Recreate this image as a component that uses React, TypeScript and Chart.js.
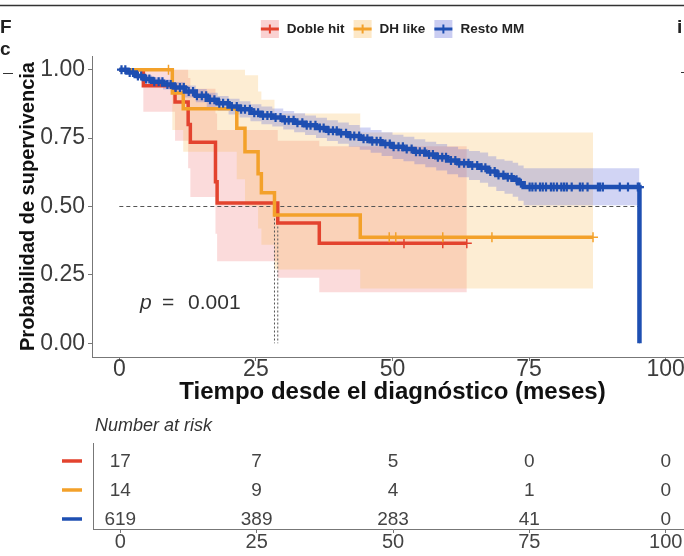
import React, { useEffect, useRef } from 'react';
import { Chart, registerables } from 'chart.js';

Chart.register(...registerables);

const FONT = "'Liberation Sans', Arial, Helvetica, sans-serif";
Chart.defaults.font.family = FONT;

const groupNames = ['Doble hit', 'DH like', 'Resto MM'];
const lineColors = ['#e3432e', '#f3a12a', '#1e4fb2'];
const bandColors = ['rgba(236,90,90,0.22)', 'rgba(247,180,70,0.24)', 'rgba(90,100,215,0.28)'];
const keyFills = ['rgba(236,90,90,0.28)', 'rgba(247,180,70,0.3)', 'rgba(90,100,215,0.32)'];

// Doble hit
const redTimes = [0, 4.4, 10.2, 12.6, 13.0, 17.6, 17.9, 29.0, 36.6, 63.6];
const redSurv = [1, 0.941, 0.882, 0.8, 0.735, 0.59, 0.513, 0.44, 0.366, 0.366];
const redLower = [1, 0.846, 0.74, 0.64, 0.535, 0.4, 0.3, 0.24, 0.187, 0.187];
const redUpper = [1, 1, 1, 0.97, 0.93, 0.84, 0.78, 0.74, 0.72, 0.72];
const redCensor = [52.1, 59.2, 63.6];

// DH like
const orangeTimes = [0, 9.7, 11.7, 21.5, 23.0, 25.4, 26.0, 28.4, 44.1, 86.7];
const orangeSurv = [1, 0.915, 0.857, 0.786, 0.7, 0.62, 0.55, 0.469, 0.388, 0.388];
const orangeLower = [1, 0.78, 0.7, 0.6, 0.5, 0.42, 0.36, 0.27, 0.2, 0.2];
const orangeUpper = [1, 1, 1, 1, 0.98, 0.92, 0.89, 0.84, 0.77, 0.77];
const orangeCensor = [9.0, 49.4, 50.6, 59.2, 68.2, 86.7];

// Resto MM
const blueTimes = [0, 1.5, 3, 4.5, 6, 8, 10, 12, 14, 16, 18, 20, 22, 24, 26, 28, 30, 32, 34, 36, 38, 40, 42, 44, 46, 48, 50, 52, 54, 56, 58, 60, 62, 64, 66, 67.5, 69, 70.5, 72, 73, 74, 95.2];
const blueSurv = [1, 0.99, 0.977, 0.966, 0.956, 0.946, 0.935, 0.92, 0.905, 0.89, 0.877, 0.865, 0.855, 0.843, 0.833, 0.825, 0.815, 0.806, 0.797, 0.787, 0.777, 0.768, 0.758, 0.748, 0.738, 0.728, 0.718, 0.71, 0.7, 0.69, 0.68, 0.668, 0.658, 0.65, 0.642, 0.628, 0.615, 0.607, 0.598, 0.585, 0.571, 0];
const blueLower = [1, 0.982, 0.966, 0.952, 0.94, 0.928, 0.915, 0.898, 0.881, 0.864, 0.85, 0.836, 0.825, 0.812, 0.801, 0.792, 0.781, 0.771, 0.761, 0.75, 0.739, 0.729, 0.718, 0.707, 0.696, 0.685, 0.674, 0.665, 0.654, 0.643, 0.632, 0.618, 0.607, 0.597, 0.587, 0.572, 0.557, 0.547, 0.536, 0.521, 0.505, 0.505];
const blueUpper = [1, 0.998, 0.988, 0.98, 0.972, 0.964, 0.955, 0.942, 0.929, 0.916, 0.904, 0.894, 0.885, 0.874, 0.865, 0.858, 0.849, 0.841, 0.833, 0.824, 0.815, 0.807, 0.798, 0.789, 0.78, 0.771, 0.762, 0.755, 0.746, 0.737, 0.728, 0.718, 0.709, 0.703, 0.697, 0.684, 0.673, 0.667, 0.66, 0.65, 0.64, 0.64];
const blueCensor = [0.4, 1.1, 1.9, 2.5, 3.4, 4.0, 4.9, 5.5, 6.4, 7.2, 7.9, 8.8, 9.4, 10.3, 11.1, 11.8, 12.7, 13.5, 14.2, 15.1, 15.9, 16.6, 17.4, 18.3, 19.0, 19.9, 20.6, 21.5, 22.3, 23.0, 23.9, 24.7, 25.4, 26.3, 27.1, 27.8, 28.6, 29.5, 30.3, 31.0, 31.9, 32.6, 33.5, 34.3, 35.0, 35.9, 36.7, 37.4, 38.3, 39.1, 39.8, 40.6, 41.5, 42.3, 43.0, 43.9, 44.7, 45.4, 46.3, 47.1, 47.8, 48.7, 49.5, 50.2, 51.1, 51.9, 52.6, 53.5, 54.3, 55.0, 55.9, 56.7, 57.4, 58.3, 59.1, 59.8, 60.7, 61.5, 62.2, 63.1, 63.9, 64.6, 65.5, 66.3, 67.0, 67.9, 68.7, 69.4, 70.3, 71.1, 71.8, 72.7, 73.5, 75.1, 75.6, 76.2, 77.0, 77.5, 78.1, 79.0, 79.5, 80.1, 80.9, 81.4, 81.9, 82.8, 84.3, 84.8, 85.7, 87.6, 88.0, 88.5, 91.6, 93.1, 94.9, 95.2];

const xTicks = [0, 25, 50, 75, 100];
const yTicks = [0, 0.25, 0.5, 0.75, 1];
const pValueLabel = '0.001';
const pValueAt = [3.8, 0.147];

const riskTimes = [0, 25, 50, 75, 100];
const riskRed = [17, 7, 5, 0, 0];
const riskOrange = [14, 9, 4, 1, 0];
const riskBlue = [619, 389, 283, 41, 0];

const groups = [
  { times: redTimes, surv: redSurv, lo: redLower, hi: redUpper, cens: redCensor },
  { times: orangeTimes, surv: orangeSurv, lo: orangeLower, hi: orangeUpper, cens: orangeCensor },
  { times: blueTimes, surv: blueSurv, lo: blueLower, hi: blueUpper, cens: blueCensor },
];

const toPts = (xs: number[], ys: number[]) => xs.map((x, i) => ({ x, y: ys[i] }));
const survAt = (times: number[], surv: number[], t: number) => {
  let v = surv[0];
  for (let i = 1; i < times.length; i++) if (times[i] < t) v = surv[i];
  return v;
};
const medianOf = (times: number[], surv: number[]) => {
  for (let i = 0; i < surv.length; i++) if (surv[i] <= 0.5) return times[i];
  return null;
};

function buildMainDatasets() {
  const ds: any[] = [];
  groups.forEach((g, i) => {
    ds.push({ data: toPts(g.times, g.hi), stepped: true, borderWidth: 0, borderColor: 'transparent', pointRadius: 0, fill: '+1', backgroundColor: bandColors[i], order: 30 - i });
    ds.push({ data: toPts(g.times, g.lo), stepped: true, borderWidth: 0, borderColor: 'transparent', pointRadius: 0, fill: false, order: 30 - i });
  });
  const medians = groups.map(g => medianOf(g.times, g.surv)).filter(m => m !== null) as number[];
  const maxMed = Math.max(...medians);
  ds.push({ data: [{ x: 0, y: 0.5 }, { x: maxMed, y: 0.5 }], borderColor: '#555', borderWidth: 1, borderDash: [4, 3], pointRadius: 0, fill: false, order: 20 });
  medians.forEach(m => {
    ds.push({ data: [{ x: m, y: 0.5 }, { x: m, y: 0 }], borderColor: '#555', borderWidth: 1, borderDash: [2, 2], pointRadius: 0, fill: false, order: 20 });
  });
  groups.forEach((g, i) => {
    ds.push({ data: toPts(g.times, g.surv), stepped: true, borderColor: lineColors[i], borderWidth: i === 2 ? 4.5 : 3.5, pointRadius: 0, fill: false, order: 12 - i * 2 });
    ds.push({
      data: g.cens.map(t => ({ x: t, y: survAt(g.times, g.surv, t) })), showLine: false, pointStyle: 'cross',
      pointRadius: i === 2 ? 4.5 : 5, borderWidth: i === 2 ? 2.2 : 1.5, borderColor: lineColors[i], backgroundColor: lineColors[i], order: 11 - i * 2,
    });
  });
  return ds;
}

const mainDecor = {
  id: 'mainDecor',
  afterDraw(chart: any) {
    const { ctx, chartArea, scales } = chart;
    ctx.save();
    ctx.strokeStyle = '#333';
    ctx.lineWidth = 1.5;
    ctx.beginPath();
    ctx.moveTo(0, 5.5); ctx.lineTo(chart.width, 5.5);
    ctx.stroke();
    ctx.fillStyle = '#222';
    ctx.textBaseline = 'middle';
    ctx.textAlign = 'left';
    ctx.font = `bold 19px ${FONT}`;
    ctx.fillText('F', 0, 28);
    ctx.fillText('c', 0, 50);
    ctx.fillText('i', 677, 28);
    ctx.lineWidth = 1.2;
    ctx.beginPath();
    ctx.moveTo(3, 73.5); ctx.lineTo(13, 73.5);
    ctx.moveTo(681, 72.5); ctx.lineTo(690, 72.5);
    ctx.stroke();

    // legend
    ctx.font = `bold 13.5px ${FONT}`;
    const keyW = 18, gapKT = 8, gapItems = 9;
    const widths = groupNames.map(n => ctx.measureText(n).width);
    const total = widths.reduce((a, w) => a + keyW + gapKT + w, 0) + gapItems * (groupNames.length - 1);
    let x = (chartArea.left + chartArea.right) / 2 - total / 2;
    const y = 29;
    groupNames.forEach((n, i) => {
      ctx.fillStyle = keyFills[i];
      ctx.fillRect(x, y - 9, keyW, 18);
      ctx.strokeStyle = lineColors[i];
      ctx.lineWidth = 3;
      ctx.beginPath(); ctx.moveTo(x, y); ctx.lineTo(x + keyW, y); ctx.stroke();
      ctx.lineWidth = 2;
      ctx.beginPath(); ctx.moveTo(x + keyW / 2, y - 4.5); ctx.lineTo(x + keyW / 2, y + 4.5); ctx.stroke();
      ctx.fillStyle = '#222';
      ctx.fillText(n, x + keyW + gapKT, y + 0.5);
      x += keyW + gapKT + widths[i] + gapItems;
    });

    // p-value
    const px = scales.x.getPixelForValue(pValueAt[0]);
    const py = scales.y.getPixelForValue(pValueAt[1]);
    ctx.fillStyle = '#333';
    ctx.font = `italic 21px ${FONT}`;
    ctx.fillText('p', px, py);
    ctx.font = `21px ${FONT}`;
    ctx.fillText('=', px + 22, py);
    ctx.fillText(pValueLabel, px + 48, py);
    ctx.restore();
  },
};

const riskDecor = {
  id: 'riskDecor',
  afterDraw(chart: any) {
    const { ctx, chartArea, scales } = chart;
    const rows = [riskRed, riskOrange, riskBlue];
    const rowVals = [3, 2, 1];
    ctx.save();
    ctx.textBaseline = 'middle';
    ctx.textAlign = 'left';
    ctx.fillStyle = '#333';
    ctx.font = `italic 18px ${FONT}`;
    ctx.fillText('Number at risk', chartArea.left + 2, 16);
    ctx.font = `19px ${FONT}`;
    ctx.textAlign = 'center';
    rows.forEach((r, i) => {
      const yy = scales.y.getPixelForValue(rowVals[i]);
      ctx.strokeStyle = lineColors[i];
      ctx.lineWidth = 3.5;
      ctx.beginPath();
      ctx.moveTo(chartArea.left - 31, yy); ctx.lineTo(chartArea.left - 11, yy);
      ctx.stroke();
      ctx.fillStyle = '#444';
      r.forEach((v, j) => {
        ctx.fillText(String(v), scales.x.getPixelForValue(riskTimes[j]), yy + 1);
      });
    });
    ctx.restore();
  },
};

export default function App() {
  const mainRef = useRef<HTMLCanvasElement>(null);
  const riskRef = useRef<HTMLCanvasElement>(null);

  useEffect(() => {
    const axisColor = '#777';
    const main = new Chart(mainRef.current as HTMLCanvasElement, {
      type: 'line',
      data: { datasets: buildMainDatasets() },
      options: {
        responsive: false,
        animation: false,
        events: [],
        layout: { padding: { left: 0, top: 56, right: 27, bottom: 0 } },
        plugins: { legend: { display: false }, tooltip: { enabled: false }, title: { display: false } },
        scales: {
          x: {
            type: 'linear', min: -5, max: 105,
            afterBuildTicks: (s: any) => { s.ticks = xTicks.map(v => ({ value: v })); },
            afterFit: (s: any) => { s.height = 53; },
            ticks: { font: { size: 23, lineHeight: 1 }, color: '#3c3c3c', padding: -3, maxRotation: 0, autoSkip: false, callback: (v: any) => String(v) },
            grid: { display: true, drawOnChartArea: false, drawTicks: true, tickLength: 4, color: axisColor },
            border: { display: true, color: axisColor, width: 1 },
            title: { display: true, text: 'Tiempo desde el diagnóstico (meses)', color: '#111', font: { size: 24, weight: 'bold', lineHeight: 1.2 }, padding: { top: 0, bottom: 3 } },
          },
          y: {
            type: 'linear', min: -0.05, max: 1.05,
            afterBuildTicks: (s: any) => { s.ticks = yTicks.map(v => ({ value: v })); },
            afterFit: (s: any) => { s.width = 92; },
            ticks: { font: { size: 23 }, color: '#3c3c3c', padding: 3, callback: (v: any) => Number(v).toFixed(2) },
            grid: { display: true, drawOnChartArea: false, drawTicks: true, tickLength: 4, color: axisColor },
            border: { display: true, color: axisColor, width: 1 },
            title: { display: true, text: 'Probabilidad de supervivencia', color: '#111', font: { size: 20, weight: 'bold', lineHeight: 1.2 }, padding: { top: 16, bottom: 0 } },
          },
        },
      } as any,
      plugins: [mainDecor],
    });

    const risk = new Chart(riskRef.current as HTMLCanvasElement, {
      type: 'scatter',
      data: { datasets: [] },
      options: {
        responsive: false,
        animation: false,
        events: [],
        layout: { padding: { left: 0, top: 33, right: 27, bottom: 0 } },
        plugins: { legend: { display: false }, tooltip: { enabled: false } },
        scales: {
          x: {
            type: 'linear', min: -5, max: 105,
            afterBuildTicks: (s: any) => { s.ticks = riskTimes.map(v => ({ value: v })); },
            afterFit: (s: any) => { s.height = 27; },
            ticks: { font: { size: 20, lineHeight: 1 }, color: '#444', padding: -1, maxRotation: 0, autoSkip: false, callback: (v: any) => String(v) },
            grid: { display: true, drawOnChartArea: false, drawTicks: true, tickLength: 4, color: axisColor },
            border: { display: true, color: axisColor, width: 1 },
          },
          y: {
            type: 'linear', min: 0.655, max: 3.62,
            afterFit: (s: any) => { s.width = 93; },
            ticks: { display: false },
            grid: { display: false },
            border: { display: true, color: axisColor, width: 1 },
          },
        },
      } as any,
      plugins: [riskDecor],
    });

    return () => { main.destroy(); risk.destroy(); };
  }, []);

  return (
    <div style={{ position: 'fixed', left: 0, top: 0, width: 684, height: 556, overflow: 'hidden', background: '#fff' }}>
      <canvas ref={mainRef} width={720} height={410} style={{ position: 'absolute', left: 0, top: 0, width: 720, height: 410, display: 'block' }} />
      <canvas ref={riskRef} width={720} height={146} style={{ position: 'absolute', left: 0, top: 410, width: 720, height: 146, display: 'block' }} />
    </div>
  );
}
